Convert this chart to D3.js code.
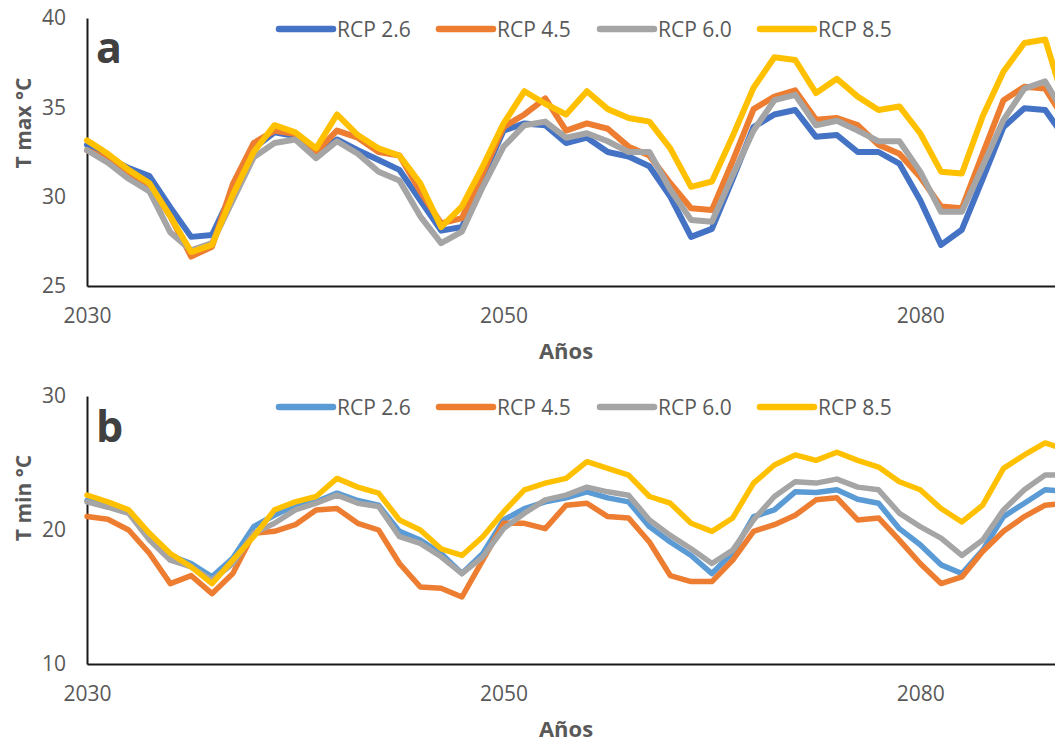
<!DOCTYPE html>
<html>
<head>
<meta charset="utf-8">
<script src="https://cdn.jsdelivr.net/npm/d3@7/dist/d3.min.js"></script>
<style>
  html, body { margin: 0; padding: 0; background: #fff; }
  svg { display: block; font-family: "Open Sans", "Liberation Sans", sans-serif; }
</style>
</head>
<body>
<svg id="chart" width="1055" height="742"></svg>
<script>
// ===== DATA =====
// one entry per point on the category axis; only every 20th carries a label
const tickLabels = ["2030", "2050", "2080"];
const tickIndex = [0, 20, 40];
const seriesNames = ["RCP 2.6", "RCP 4.5", "RCP 6.0", "RCP 8.5"];

const tmax26 = [32.9, 32.2, 31.6, 31.15, 29.4, 27.75, 27.85, 30.3, 32.7, 33.6, 33.4, 32.4, 33.2, 32.6, 32.05, 31.5,
  29.8, 28.1, 28.3, 31.1, 33.7, 34.1, 34.0, 33.0, 33.3, 32.5, 32.25, 31.7, 30.0, 27.75,
  28.2, 31.0, 33.9, 34.6, 34.85, 33.35, 33.45, 32.5, 32.5, 31.85, 29.8, 27.3, 28.15, 31.0, 33.9, 34.95, 34.85, 33.2];
const tmax45 = [32.6, 32.1, 31.3, 30.6, 28.9, 26.65, 27.2, 30.7, 33.0, 33.7, 33.5, 32.5, 33.7, 33.3, 32.5, 32.3,
  30.3, 28.5, 28.8, 31.3, 33.9, 34.6, 35.5, 33.7, 34.1, 33.8, 32.8, 32.3, 30.75, 29.35,
  29.25, 32.0, 34.9, 35.6, 35.95, 34.3, 34.4, 34.0, 32.9, 32.4, 31.1, 29.45, 29.35, 32.4, 35.4, 36.15, 36.05, 34.2];
const tmax60 = [32.6, 31.9, 31.0, 30.3, 28.0, 27.0, 27.4, 29.8, 32.2, 33.0, 33.2, 32.15, 33.1, 32.4, 31.4, 30.9,
  28.9, 27.4, 28.05, 30.55, 32.8, 34.0, 34.2, 33.3, 33.55, 33.1, 32.5, 32.5, 30.4, 28.7,
  28.6, 31.2, 33.7, 35.4, 35.7, 34.0, 34.25, 33.7, 33.1, 33.1, 31.4, 29.15, 29.15, 31.7, 34.3, 36.05, 36.45, 34.5];
const tmax85 = [33.15, 32.4, 31.5, 30.75, 28.9, 26.9, 27.3, 30.1, 32.5, 34.0, 33.6, 32.7, 34.6, 33.45, 32.7, 32.3,
  30.75, 28.3, 29.45, 31.7, 34.1, 35.9, 35.2, 34.6, 35.9, 34.9, 34.4, 34.2, 32.7, 30.55,
  30.85, 33.4, 36.1, 37.8, 37.65, 35.8, 36.6, 35.6, 34.85, 35.05, 33.55, 31.4, 31.3, 34.5, 37.0, 38.6, 38.8, 35.0];

const tmin26 = [22.2, 21.8, 21.3, 19.4, 18.1, 17.5, 16.5, 17.9, 20.25, 21.1, 21.85, 22.1, 22.75, 22.2, 21.85, 19.9,
  19.25, 18.25, 16.75, 18.25, 20.75, 21.6, 22.1, 22.4, 22.85, 22.4, 22.1, 20.25, 19.1, 18.1,
  16.75, 18.3, 21.0, 21.5, 22.85, 22.8, 23.0, 22.3, 22.0, 20.1, 18.9, 17.4, 16.75, 18.5, 21.0, 22.0, 23.0, 22.9];
const tmin45 = [21.0, 20.8, 20.0, 18.25, 16.0, 16.6, 15.25, 16.75, 19.75, 19.9, 20.4, 21.5, 21.6, 20.5, 20.0, 17.5,
  15.75, 15.65, 15.0, 17.75, 20.5, 20.5, 20.1, 21.85, 22.0, 21.0, 20.9, 19.1, 16.6, 16.15,
  16.15, 17.75, 19.9, 20.4, 21.1, 22.25, 22.4, 20.75, 20.9, 19.25, 17.5, 16.0, 16.5, 18.4, 19.9, 21.0, 21.85, 22.0];
const tmin60 = [22.1, 21.7, 21.25, 19.25, 17.75, 17.25, 16.25, 17.5, 19.75, 20.5, 21.5, 22.0, 22.6, 22.0, 21.75, 19.5,
  19.0, 18.0, 16.75, 18.0, 20.1, 21.25, 22.25, 22.6, 23.2, 22.85, 22.6, 20.75, 19.6, 18.6,
  17.5, 18.5, 20.75, 22.5, 23.6, 23.5, 23.8, 23.2, 23.0, 21.25, 20.25, 19.4, 18.1, 19.25, 21.5, 23.0, 24.1, 24.1];
const tmin85 = [22.6, 22.1, 21.5, 19.75, 18.25, 17.25, 16.0, 17.75, 19.5, 21.5, 22.1, 22.5, 23.85, 23.2, 22.75, 20.75,
  20.0, 18.6, 18.1, 19.5, 21.35, 23.0, 23.5, 23.85, 25.1, 24.6, 24.1, 22.5, 22.0, 20.5,
  19.9, 20.9, 23.5, 24.85, 25.6, 25.2, 25.8, 25.2, 24.7, 23.6, 23.0, 21.6, 20.6, 21.85, 24.6, 25.6, 26.5, 26.0];

const categories = tmax26.map((d, i) => i);

// ===== LAYOUT =====
const svg = d3.select("#chart");
const textColor = "#595959";
const left = 87;
const step = 20.83;

const x = d3.scalePoint()
  .domain(categories)
  .range([left, left + step * (categories.length - 1)]);

function drawPanel(cfg) {
  const g = svg.append("g");

  const y = d3.scaleLinear()
    .domain(cfg.domain)
    .range([cfg.bottom, cfg.top]);

  // y axis
  const yAxis = g.append("g")
    .attr("transform", `translate(${left},0)`)
    .call(d3.axisLeft(y).tickValues(cfg.yTicks).tickSize(0).tickSizeOuter(0).tickPadding(21));
  yAxis.select(".domain").attr("stroke", "#1a1a1a").attr("stroke-width", 2);
  yAxis.selectAll("text")
    .attr("fill", textColor)
    .style("font-size", "21px")
    .style("font-family", "Open Sans, sans-serif");

  // x axis
  const xAxis = g.append("g")
    .attr("transform", `translate(0,${cfg.bottom})`)
    .call(d3.axisBottom(x)
      .tickValues(tickIndex)
      .tickFormat((d, i) => tickLabels[i])
      .tickSize(0).tickSizeOuter(0).tickPadding(22));
  xAxis.select(".domain").attr("stroke", "#1a1a1a").attr("stroke-width", 2);
  xAxis.selectAll("text")
    .attr("fill", textColor)
    .style("font-size", "21px")
    .style("font-family", "Open Sans, sans-serif");

  // lines
  const line = d3.line()
    .x((d, i) => x(categories[i]))
    .y(d => y(d))
    .curve(d3.curveLinear);

  cfg.series.forEach((values, k) => {
    g.append("path")
      .datum(values)
      .attr("d", line)
      .attr("fill", "none")
      .attr("stroke", cfg.colors[k])
      .attr("stroke-width", cfg.lineWidth)
      .attr("stroke-linejoin", "round")
      .attr("stroke-linecap", "round");
  });

  // legend
  const legend = g.append("g").attr("transform", `translate(0,${cfg.legendY})`);
  const legendX = [279, 439, 600, 760];
  seriesNames.forEach((name, k) => {
    legend.append("line")
      .attr("x1", legendX[k]).attr("x2", legendX[k] + 54)
      .attr("y1", 0).attr("y2", 0)
      .attr("stroke", cfg.colors[k])
      .attr("stroke-width", 6.5)
      .attr("stroke-linecap", "round");
    legend.append("text")
      .attr("x", legendX[k] + 58)
      .attr("y", 7.5)
      .attr("fill", textColor)
      .style("font-size", "21px")
      .text(name);
  });

  // panel letter
  g.append("text")
    .attr("x", 96)
    .attr("y", cfg.top + cfg.letterDy)
    .attr("fill", "#404040")
    .style("font-size", "43px")
    .style("font-weight", "bold")
    .text(cfg.letter);

  // y title
  g.append("text")
    .attr("transform", `translate(31,${cfg.yTitleY}) rotate(-90)`)
    .attr("text-anchor", "middle")
    .attr("fill", textColor)
    .style("font-size", "21px")
    .style("font-weight", "bold")
    .text(cfg.yTitle);

  // x title
  g.append("text")
    .attr("x", 566)
    .attr("y", cfg.bottom + 73)
    .attr("text-anchor", "middle")
    .attr("fill", textColor)
    .style("font-size", "22px")
    .style("font-weight", "bold")
    .text("Años");
}

drawPanel({
  top: 18, bottom: 286, domain: [25, 40], yTicks: [25, 30, 35, 40],
  series: [tmax26, tmax45, tmax60, tmax85],
  colors: ["#4472C4", "#ED7D31", "#A5A5A5", "#FFC000"],
  lineWidth: 6, legendY: 29, letter: "a", letterDy: 45,
  yTitle: "T max °C", yTitleY: 123
});

drawPanel({
  top: 396, bottom: 664, domain: [10, 30], yTicks: [10, 20, 30],
  series: [tmin26, tmin45, tmin60, tmin85],
  colors: ["#5B9BD5", "#ED7D31", "#A5A5A5", "#FFC000"],
  lineWidth: 5.5, legendY: 407, letter: "b", letterDy: 46,
  yTitle: "T min °C", yTitleY: 498
});
</script>
</body>
</html>
